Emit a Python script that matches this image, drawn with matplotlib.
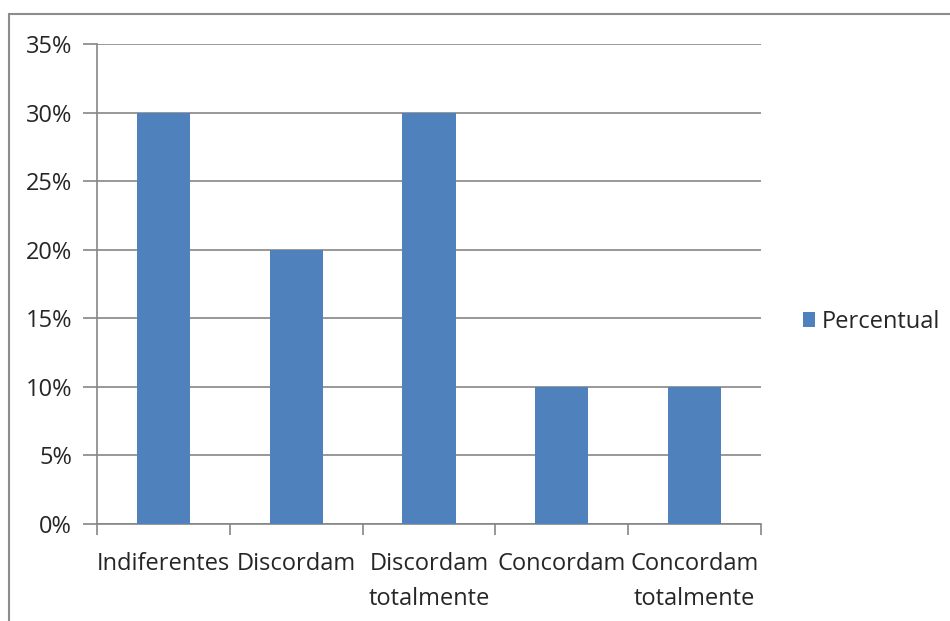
import matplotlib.pyplot as plt
import matplotlib.patches as mpatches
import numpy as np

categorias = ["Indiferentes", "Discordam", "Discordam\ntotalmente", "Concordam", "Concordam\ntotalmente"]
percentual = [30, 20, 30, 10, 10]
yticks = [0, 5, 10, 15, 20, 25, 30, 35]

plt.rcParams['font.family'] = ['Open Sans', 'DejaVu Sans']
cor = "#4F81BD"
cinza = "#868686"
texto = "#262626"
fs = 17

fig = plt.figure(figsize=(9.5, 6.21), dpi=100)
W, H = 950, 621
ax = fig.add_axes([97/W, 1-524/H, (761-97)/W, (524-44)/H])

x = np.arange(len(categorias))
ax.bar(x, percentual, width=0.4, color=cor, zorder=3, label="Percentual")

ax.set_xlim(-0.5, len(categorias)-0.5)
ax.set_ylim(0, 35)
ax.set_yticks(yticks)
ax.set_yticklabels([f"{v}%" for v in yticks])
ax.yaxis.grid(True, color=cinza, linewidth=1.2, zorder=0)

# ticks between categories
ax.set_xticks(np.arange(-0.5, len(categorias)), minor=False)
ax.set_xticklabels([])
ax.set_xticks(x, minor=True)
ax.set_xticklabels(categorias, minor=True, fontsize=fs, color=texto, linespacing=1.65)
ax.tick_params(axis='x', which='major', length=8, color=cinza, width=1.2)
ax.tick_params(axis='x', which='minor', length=0, pad=20)
ax.tick_params(axis='y', length=10, color=cinza, width=1.2, labelsize=fs, labelcolor=texto, pad=8)

for s in ["top", "right"]:
    ax.spines[s].set_visible(False)
for s in ["left", "bottom"]:
    ax.spines[s].set_color(cinza)
    ax.spines[s].set_linewidth(1.2)

# legend
leg = ax.legend(loc="center left", bbox_to_anchor=(803/W, 1-322/H), bbox_transform=fig.transFigure,
                frameon=False, fontsize=fs, handlelength=0.5, handleheight=0.6, handletextpad=0.3,
                borderpad=0, borderaxespad=0)
for t in leg.get_texts():
    t.set_color(texto)

# outer chart border
fig.patches.append(mpatches.Rectangle((9/W, -0.1), 1.2, 1-14/H+0.1, transform=fig.transFigure,
                                      fill=False, edgecolor="#8c8c8c", linewidth=1.5))

fig.savefig("out.png", dpi=100)
